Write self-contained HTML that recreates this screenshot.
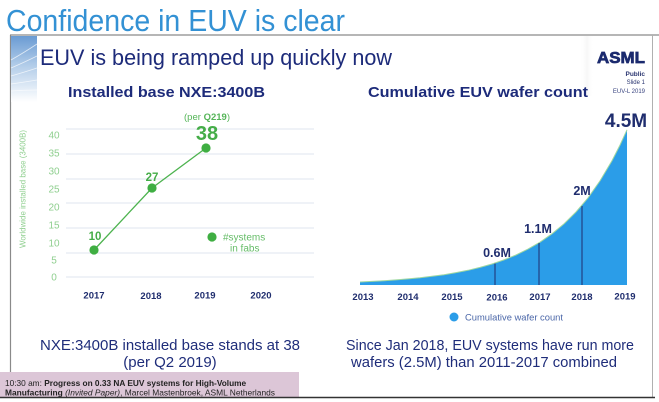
<!DOCTYPE html>
<html>
<head>
<meta charset="utf-8">
<style>
  html,body{margin:0;padding:0;background:#fff;}
  body{width:659px;height:402px;overflow:hidden;}
  svg{display:block;font-family:"Liberation Sans",Arial,sans-serif;}
</style>
</head>
<body>
<svg width="659" height="402" viewBox="0 0 659 402" xmlns="http://www.w3.org/2000/svg">
  <defs>
    <linearGradient id="deco" x1="0" y1="0" x2="0" y2="1">
      <stop offset="0" stop-color="#6a9bd3"/>
      <stop offset="0.45" stop-color="#b3cde9"/>
      <stop offset="1" stop-color="#ffffff"/>
    </linearGradient>
    <linearGradient id="shade" x1="0" y1="0" x2="1" y2="0">
      <stop offset="0" stop-color="#ffffff" stop-opacity="0"/>
      <stop offset="0.5" stop-color="#eeeeee" stop-opacity="0.5"/>
      <stop offset="1" stop-color="#ffffff" stop-opacity="0"/>
    </linearGradient>
  </defs>

  <!-- Main title -->
  <text x="6" y="31" font-size="31" fill="#3391d4" textLength="339" lengthAdjust="spacingAndGlyphs">Confidence in EUV is clear</text>

  <!-- slide frame -->
  <rect x="580" y="36" width="14" height="60" fill="url(#shade)"/>
  <line x1="10" y1="35" x2="659" y2="35" stroke="#8a8a8a" stroke-width="1.3"/>
  <line x1="10.5" y1="35" x2="10.5" y2="373" stroke="#8a8a8a" stroke-width="1.2"/>
  <line x1="652.5" y1="35" x2="652.5" y2="397" stroke="#b0b0b0" stroke-width="1"/>

  <!-- left decoration -->
  <rect x="11" y="36" width="26" height="66" fill="url(#deco)"/>
  <g stroke="#ffffff" stroke-opacity="0.7" stroke-width="0.8" fill="none">
    <path d="M11 60 Q25 52 37 44"/>
    <path d="M11 68 Q25 62 37 56"/>
    <path d="M11 76 Q25 72 37 68"/>
    <path d="M11 84 Q25 82 37 80"/>
    <path d="M11 91 Q25 90 37 90"/>
  </g>

  <!-- Slide title -->
  <text x="40" y="65" font-size="22" fill="#1d2b7a" textLength="352" lengthAdjust="spacingAndGlyphs">EUV is being ramped up quickly now</text>

  <!-- ASML logo -->
  <text x="645" y="63" font-size="16" font-weight="bold" fill="#1b2a6e" stroke="#1b2a6e" stroke-width="0.7" text-anchor="end" textLength="48" lengthAdjust="spacingAndGlyphs">ASML</text>
  <text x="645" y="76" font-size="6.5" font-weight="bold" fill="#2a3570" text-anchor="end">Public</text>
  <text x="645" y="84" font-size="6" fill="#2a3570" text-anchor="end">Slide 1</text>
  <text x="645" y="93" font-size="6" fill="#3a4580" text-anchor="end">EUV-L 2019</text>

  <!-- Chart titles -->
  <text x="68" y="97" font-size="15" font-weight="bold" fill="#1d2b7a" textLength="197" lengthAdjust="spacingAndGlyphs">Installed base NXE:3400B</text>
  <text x="368" y="97" font-size="15" font-weight="bold" fill="#1d2b7a" textLength="220" lengthAdjust="spacingAndGlyphs">Cumulative EUV wafer count</text>

  <!-- LEFT CHART -->
  <g stroke="#dfe4ef" stroke-width="1">
    <line x1="66" y1="129" x2="314" y2="129"/>
    <line x1="66" y1="154" x2="314" y2="154"/>
    <line x1="66" y1="179" x2="314" y2="179"/>
    <line x1="66" y1="203" x2="314" y2="203"/>
    <line x1="66" y1="228" x2="314" y2="228"/>
    <line x1="66" y1="253" x2="314" y2="253"/>
    <line x1="66" y1="277" x2="314" y2="277"/>
  </g>
  <g font-size="10" fill="#8fcf8f" text-anchor="middle">
    <text x="54" y="138.5">40</text>
    <text x="54" y="156.5">35</text>
    <text x="54" y="174.5">30</text>
    <text x="54" y="192.5">25</text>
    <text x="54" y="210.5">20</text>
    <text x="54" y="228.5">15</text>
    <text x="54" y="246.5">10</text>
    <text x="54" y="263.5">5</text>
    <text x="54" y="280.5">0</text>
  </g>
  <text transform="translate(25.5,189) rotate(-90)" font-size="8" fill="#8fcf8f" text-anchor="middle" textLength="118" lengthAdjust="spacingAndGlyphs">Worldwide installed base (3400B)</text>

  <polyline points="94,250 152,188 206,148" fill="none" stroke="#4db34f" stroke-width="1.3"/>
  <g fill="#3fae42">
    <circle cx="94" cy="250" r="4.6"/>
    <circle cx="152" cy="188" r="4.6"/>
    <circle cx="206" cy="148" r="4.6"/>
    <circle cx="212" cy="237" r="4.6"/>
  </g>
  <g font-weight="bold" fill="#45ad48" text-anchor="middle">
    <text x="95" y="240" font-size="11.5">10</text>
    <text x="152" y="181" font-size="11.5">27</text>
    <text x="207" y="140" font-size="20">38</text>
  </g>
  <text x="207" y="120" font-size="9.5" fill="#55b558" text-anchor="middle">(per <tspan font-weight="bold">Q219</tspan>)</text>
  <text x="223" y="240.5" font-size="10" fill="#66bd68">#systems</text>
  <text x="230" y="251.5" font-size="10" fill="#66bd68">in fabs</text>

  <g font-size="9.5" font-weight="bold" fill="#1f2d6e" text-anchor="middle">
    <text x="94" y="298.5">2017</text>
    <text x="151" y="299">2018</text>
    <text x="205" y="298.5">2019</text>
    <text x="261" y="298.5">2020</text>
  </g>

  <!-- RIGHT CHART -->
  <path d="M360,285 L360,282 L372,281.4 L384,280.7 L396,279.9 L408,278.9 L420,277.8 L432,276.3 L444,274.7 L456,272.6 L468,270.3 L480,267.4 L492,264 L504,259.9 L516,255 L528,249.1 L540,242.2 L552,233.8 L564,223.9 L576,212 L588,197.9 L600,180.9 L612,160.7 L620,145.1 L627,129.8 L627,285 Z" fill="#2b9de8"/>
  <polyline points="360,282 372,281.4 384,280.7 396,279.9 408,278.9 420,277.8 432,276.3 444,274.7 456,272.6 468,270.3 480,267.4 492,264 504,259.9 516,255 528,249.1 540,242.2 552,233.8 564,223.9 576,212 588,197.9 600,180.9 612,160.7 620,145.1 627,129.8" fill="none" stroke="#9fd8a0" stroke-width="1"/>
  <g stroke="#1f2d6e" stroke-width="1">
    <line x1="495" y1="263.5" x2="495" y2="285"/>
    <line x1="539" y1="243" x2="539" y2="285"/>
    <line x1="582" y1="206" x2="582" y2="285"/>
  </g>
  <g font-weight="bold" fill="#1f2d6e" text-anchor="middle">
    <text x="497" y="257" font-size="12.5">0.6M</text>
    <text x="538" y="233" font-size="12.5">1.1M</text>
    <text x="582" y="195" font-size="12.5">2M</text>
    <text x="626" y="127" font-size="19">4.5M</text>
  </g>
  <g font-size="9.5" font-weight="bold" fill="#1f2d6e" text-anchor="middle">
    <text x="363" y="300">2013</text>
    <text x="408" y="300">2014</text>
    <text x="452" y="300">2015</text>
    <text x="497" y="300.5">2016</text>
    <text x="540" y="300">2017</text>
    <text x="582" y="300">2018</text>
    <text x="625" y="299.5">2019</text>
  </g>
  <circle cx="454" cy="317" r="4.5" fill="#2b9de8"/>
  <text x="465" y="320.5" font-size="9.5" fill="#4a66a8" textLength="98" lengthAdjust="spacingAndGlyphs">Cumulative wafer count</text>

  <!-- Bottom statements -->
  <g font-size="15" fill="#1f2d7a" text-anchor="middle">
    <text x="170" y="350" textLength="260" lengthAdjust="spacingAndGlyphs">NXE:3400B installed base stands at 38</text>
    <text x="170" y="367">(per Q2 2019)</text>
    <text x="490" y="350" textLength="288" lengthAdjust="spacingAndGlyphs">Since Jan 2018, EUV systems have run more</text>
    <text x="484" y="367" textLength="266" lengthAdjust="spacingAndGlyphs">wafers (2.5M) than 2011-2017 combined</text>
  </g>

  <!-- footer box -->
  <rect x="0" y="372" width="299" height="25" fill="#dcc6d7"/>
  <text x="5" y="386" font-size="8.3" fill="#222">10:30 am: <tspan font-weight="bold">Progress on 0.33 NA EUV systems for High-Volume</tspan></text>
  <text x="5" y="395.5" font-size="8.3" fill="#222" textLength="270" lengthAdjust="spacingAndGlyphs"><tspan font-weight="bold">Manufacturing</tspan> <tspan font-style="italic">(Invited Paper)</tspan>, Marcel Mastenbroek, ASML Netherlands</text>
  <line x1="0" y1="397.5" x2="655" y2="397.5" stroke="#333" stroke-width="1.5"/>
</svg>
</body>
</html>
